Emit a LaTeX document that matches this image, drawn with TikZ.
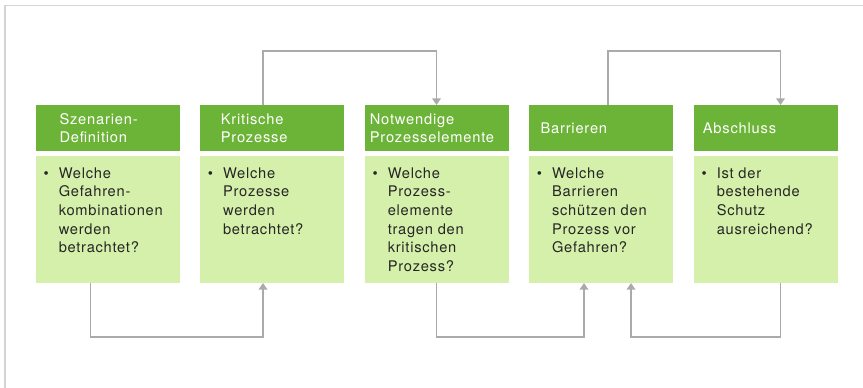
\documentclass[tikz,border=0pt]{standalone}
\usepackage{fontspec}
\setmainfont{TeX Gyre Heros}
\newfontfamily\headfont[LetterSpace=5.5]{TeX Gyre Heros}
\newfontfamily\quesfont[LetterSpace=5]{TeX Gyre Heros}
\usetikzlibrary{calc,arrows.meta}

\definecolor{headgreen}{RGB}{108,180,56}
\definecolor{bodygreen}{RGB}{213,240,170}
\definecolor{linegray}{RGB}{170,170,170}
\definecolor{framegray}{RGB}{212,212,212}
\definecolor{quesgray}{RGB}{38,38,38}

\tikzset{every picture/.style={line width=0.75pt},
  headbox/.style={fill=headgreen, minimum width=108pt, minimum height=34.5pt, inner sep=0pt, anchor=north west},
  bodybox/.style={fill=bodygreen, minimum width=108pt, minimum height=94.5pt, inner sep=0pt, anchor=north west},
  title/.style={anchor=west, inner sep=0pt, align=left, text=white, font=\headfont\fontsize{11}{13.5}\selectfont},
  question/.style={anchor=north west, inner sep=0pt, align=left, text=quesgray, font=\quesfont\fontsize{11}{14}\selectfont},
  conn/.style={color=linegray, line width=1.1pt, -{Triangle[width=6.5pt,length=5pt]}}
}
\newcommand{\qitem}{\llap{\textbullet\hspace{7.5pt}}}

\begin{document}
\begin{tikzpicture}[x=0.75pt,y=0.75pt,yscale=-1,xscale=1]
\useasboundingbox (0,0) rectangle (863,388);

%Frame
\draw [color=framegray, line width=1.1pt] (4.8,388) -- (4.8,5.6) -- (863,5.6);

%Shape: Rectangles
\node [headbox] (h1) at (35,105) {};
\node [bodybox] (b1) at (35,156) {};
\node [headbox] (h2) at (199.3,105) {};
\node [bodybox] (b2) at (199.3,156) {};
\node [headbox] (h3) at (364,105) {};
\node [bodybox] (b3) at (364,156) {};
\node [headbox] (h4) at (528.3,105) {};
\node [bodybox] (b4) at (528.3,156) {};
\node [headbox] (h5) at (693,105) {};
\node [bodybox] (b5) at (693,156) {};

% Text Node
\node [title] (t1) at ($(h1.west)+(24,0)$) {Szenarien-\\Definition};
\node [title] (t2) at ($(h2.west)+(21,0)$) {Kritische\\Prozesse};
\node [title] (t3) at ($(h3.west)+(5.3,0)$) {Notwendige\\Prozesselemente};
\node [title] (t4) at ($(h4.west)+(11.7,0)$) {Barrieren};
\node [title] (t5) at ($(h5.west)+(9.3,0)$) {Abschluss};

% Text Node
\node [question] (q1) at ($(b1.north west)+(23.3,11)$) {\qitem Welche\\Gefahren-\\kombinationen\\werden\\betrachtet?};
\node [question] (q2) at ($(b2.north west)+(23.3,11)$) {\qitem Welche\\Prozesse\\werden\\betrachtet?};
\node [question] (q3) at ($(b3.north west)+(23.3,11)$) {\qitem Welche\\Prozess-\\elemente\\tragen den\\kritischen\\Prozess?};
\node [question] (q4) at ($(b4.north west)+(23.3,11)$) {\qitem Welche\\Barrieren\\schützen den\\Prozess vor\\Gefahren?};
\node [question] (q5) at ($(b5.north west)+(23.3,11)$) {\qitem Ist der\\bestehende\\Schutz\\ausreichend?};

%Straight Lines
\draw [conn] ($(b1.south west)+(55.3,0)$) -- ++(0,54) -| ($(b2.south west)+(63.7,0)$);
\draw [conn] ($(h2.north west)+(63.7,0)$) -- ++(0,-54) -| (h3.north);
\draw [conn] (b3.south) -- ++(0,54) -| ($(b4.south west)+(55.7,0)$);
\draw [conn] ($(h4.north west)+(79.5,0)$) -- ++(0,-54) -| ($(h5.north west)+(87.5,0)$);
\draw [conn] ($(b5.south west)+(87.5,0)$) -- ++(0,54) -| ($(b4.south west)+(102.7,0)$);

\end{tikzpicture}
\end{document}
